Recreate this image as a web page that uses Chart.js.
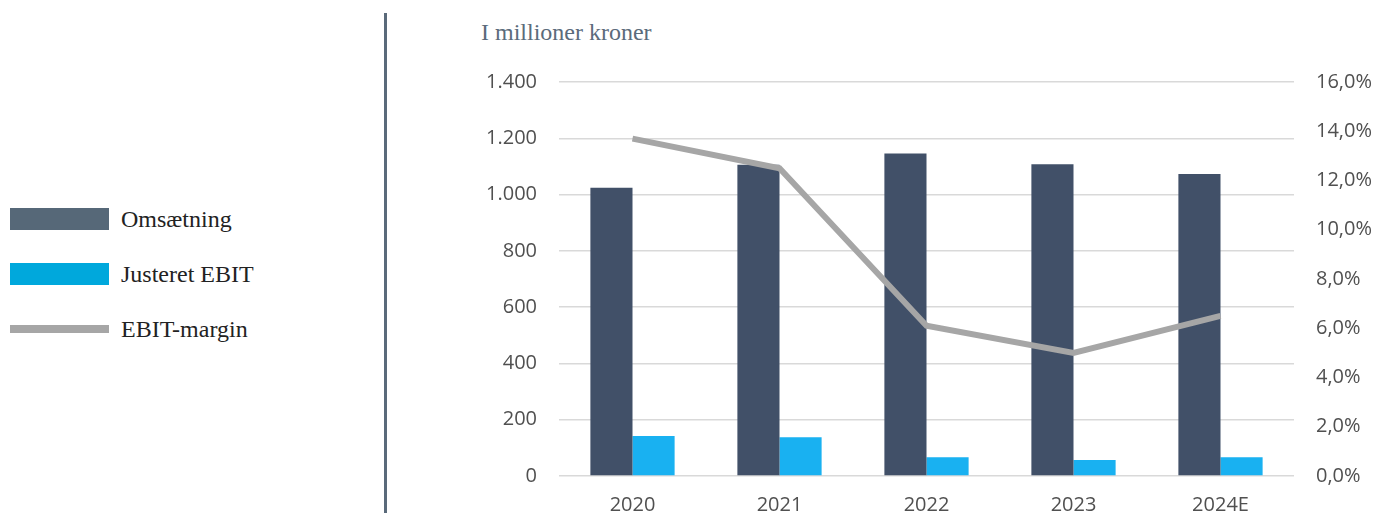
<!DOCTYPE html>
<html>
<head>
<meta charset="utf-8">
<script src="https://cdn.jsdelivr.net/npm/chart.js@4"></script>
<style>
  html, body { margin:0; padding:0; background:#fff; }
  body { width:1386px; height:513px; position:relative; overflow:hidden; font-family:'Liberation Serif', serif; }
  .divider { position:absolute; left:384px; top:13px; width:3px; height:500px; background:#5a6a7a; }
  .title { position:absolute; left:481px; top:18px; font-size:24px; color:#5b6b7b; line-height:28px; white-space:nowrap; }
  .leg { position:absolute; left:10px; display:flex; align-items:center; font-size:24px; color:#222; white-space:nowrap; }
  .leg i { display:inline-block; width:99px; margin-right:12px; }
  #wrap { position:absolute; left:440px; top:48px; width:946px; height:465px; }
</style>
</head>
<body>
<div class="divider"></div>
<div class="title">I millioner kroner</div>
<div class="leg" style="top:204px;height:30px"><i style="height:22px;background:#566878"></i>Omsætning</div>
<div class="leg" style="top:259px;height:30px"><i style="height:22px;background:#00a8dc"></i>Justeret EBIT</div>
<div class="leg" style="top:314px;height:30px"><i style="height:8px;background:#a6a6a6"></i>EBIT-margin</div>
<div id="wrap"><canvas id="chart"></canvas></div>
<script>
const years      = ['2020', '2021', '2022', '2023', '2024E'];
const omsaetning = [1024, 1106, 1146, 1108, 1073];
const ebit       = [142, 138, 67, 57, 67];
const margin     = [13.7, 12.5, 6.1, 5.0, 6.5];

const tickFont = { family:"'Open Sans', sans-serif", size:20 };

new Chart(document.getElementById('chart').getContext('2d'), {
  type:'bar',
  data:{
    labels: years,
    datasets:[
      { type:'line', label:'EBIT-margin', data: margin, yAxisID:'y1', order:0,
        borderColor:'#a6a6a6', borderWidth:6, pointRadius:0, fill:false, tension:0 },
      { label:'Omsætning', data: omsaetning, yAxisID:'y', order:1,
        backgroundColor:'#415068', categoryPercentage:0.573, barPercentage:1 },
      { label:'Justeret EBIT', data: ebit, yAxisID:'y', order:1,
        backgroundColor:'#19b1f1', categoryPercentage:0.573, barPercentage:1 },
    ]
  },
  options:{
    responsive:true, maintainAspectRatio:false, animation:false,
    layout:{ padding:{ top:31, left:0, right:0, bottom:0 } },
    plugins:{ legend:{ display:false }, tooltip:{ enabled:false } },
    scales:{
      x:{
        grid:{ display:false }, border:{ display:false },
        ticks:{ color:'#505050', font:tickFont, padding:9 },
        afterFit: s => { s.height = 37; }
      },
      y:{
        position:'left', min:0, max:1400,
        grid:{ color:'#d9d9d9', lineWidth:1.5, drawTicks:false }, border:{ display:false },
        ticks:{ stepSize:200, color:'#505050', font:tickFont, padding:22,
          callback: v => v.toLocaleString('de-DE') },
        afterFit: s => { s.width = 119; }
      },
      y1:{
        position:'right', min:0, max:16,
        grid:{ display:false, drawTicks:false }, border:{ display:false },
        ticks:{ stepSize:2, color:'#505050', font:tickFont, padding:22,
          callback: v => v.toFixed(1).replace('.', ',') + '%' },
        afterFit: s => { s.width = 92; }
      }
    }
  }
});
</script>
</body>
</html>
